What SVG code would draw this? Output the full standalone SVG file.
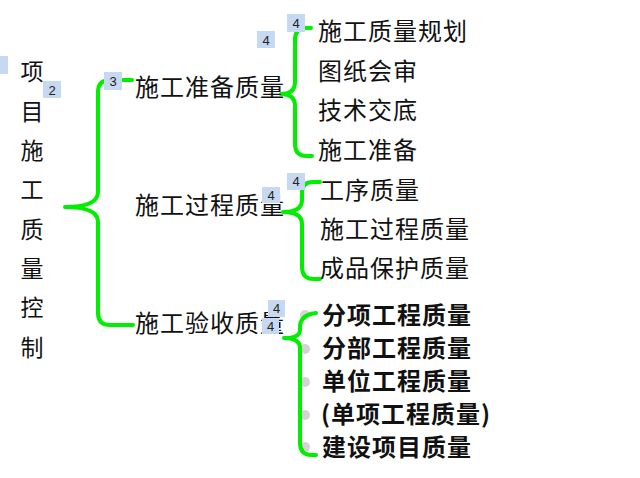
<svg xmlns="http://www.w3.org/2000/svg" width="640" height="478" viewBox="0 0 640 478">
<style>
.t{font-family:"Noto Sans CJK SC","Noto Sans CJK TC",sans-serif;fill:#111;dominant-baseline:central}
.l2{font-size:24px;letter-spacing:1px}
.it{font-size:24px;letter-spacing:1px}
.b{font-weight:600}
.root{font-size:23px}
.br{fill:none;stroke:#00ee00;stroke-width:4;stroke-linecap:round;stroke-linejoin:round}
.tag rect{fill:#c6d9f1}
.tag text{font-family:"Liberation Sans",Arial,sans-serif;font-size:13px;fill:#222;text-anchor:middle;dominant-baseline:central}
.dot{fill:#d4d4d4}
</style>
<rect width="640" height="478" fill="#fff"/>
<g id="dots">
<circle class="dot" cx="305" cy="315" r="5"/>
<circle class="dot" cx="305" cy="349" r="5"/>
<circle class="dot" cx="305" cy="382" r="5"/>
<circle class="dot" cx="305" cy="415" r="5"/>
<circle class="dot" cx="305" cy="447" r="5"/>
</g>
<g id="connectors">
<path class="br" d="M132,80 H110 Q98,80 98,92 V192 Q98,207 65,207 Q98,207 98,222 V313 Q98,325 110,325 H133"/>
<path class="br" d="M311,28 H306 Q295,28 295,40 V82 Q295,94 281,94 Q295,94 295,106 V144 Q295,156 307,156 H312"/>
<path class="br" d="M320,182 H313 Q302,182 302,193 V200 Q302,212 283,212 Q302,212 302,224 V267 Q302,279 314,279 H320"/>
<path class="br" d="M316,313 Q300,315 300,327 V330 Q300,338 284,338 Q300,338 300,348 V443 Q300,455 312,455 H316"/>
</g>
<g id="root">
<text class="t root" text-anchor="middle"><tspan x="32" y="70">项</tspan><tspan x="32" y="109.5">目</tspan><tspan x="32" y="148.5">施</tspan><tspan x="32" y="188">工</tspan><tspan x="32" y="227.5">质</tspan><tspan x="32" y="266.5">量</tspan><tspan x="32" y="306">控</tspan><tspan x="32" y="345.5">制</tspan></text>
</g>
<g id="prep">
<text class="t l2" x="135" y="85">施工准备质量</text>
</g>
<g id="process">
<text class="t l2" x="135" y="203">施工过程质量</text>
</g>
<g id="accept">
<text class="t l2" x="135" y="321">施工验收质量</text>
</g>
<g id="prep-items">
<text class="t it" x="318" y="29">施工质量规划</text>
<text class="t it" x="318" y="69">图纸会审</text>
<text class="t it" x="318" y="108">技术交底</text>
<text class="t it" x="318" y="148">施工准备</text>
</g>
<g id="process-items">
<text class="t it" x="320" y="188">工序质量</text>
<text class="t it" x="320" y="227">施工过程质量</text>
<text class="t it" x="320" y="266">成品保护质量</text>
</g>
<g id="accept-items">
<text class="t it b" x="322" y="313">分项工程质量</text>
<text class="t it b" x="322" y="346">分部工程质量</text>
<text class="t it b" x="322" y="379">单位工程质量</text>
<text class="t it b" x="321" y="412">(单项工程质量)</text>
<text class="t it b" x="322" y="445">建设项目质量</text>
</g>
<g id="tags" class="tag">
<rect x="0" y="56" width="8" height="18"/>
<rect x="43" y="81" width="18" height="17"/><text x="52" y="90">2</text>
<rect x="104" y="72" width="18" height="18"/><text x="113" y="81">3</text>
<rect x="257" y="31" width="18" height="17"/><text x="266" y="40">4</text>
<rect x="287" y="14" width="18" height="18"/><text x="296" y="23">4</text>
<rect x="262" y="187" width="18" height="16"/><text x="271" y="195">4</text>
<rect x="287" y="173" width="18" height="17"/><text x="296" y="181.5">4</text>
<rect x="268" y="300" width="17" height="17"/><text x="276.5" y="308.5">4</text>
<rect x="262" y="318" width="17" height="16"/><text x="270.5" y="326">4</text>
</g>
</svg>
